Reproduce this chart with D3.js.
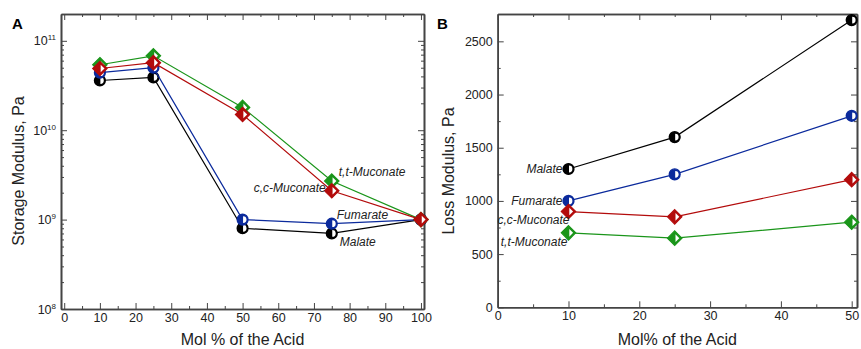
<!DOCTYPE html>
<html>
<head>
<meta charset="utf-8">
<script src="https://cdn.jsdelivr.net/npm/d3@7"></script>
<style>
body { margin: 0; background: #fff; }
svg { font-family: "Liberation Sans", Arial, sans-serif; }
.axis path, .axis line { stroke: #444; }
.axis text { font-size: 12.5px; fill: #222; }
.lab { font-size: 12px; font-style: italic; fill: #222; }
.title { font-size: 16px; fill: #222; }
</style>
</head>
<body>
<div id="chart"></div>
<script>
// panel A: storage modulus vs mol % acid
const molA = [10, 25, 50, 75, 100]
const malateA = [3.6e10, 3.9e10, 8.0e8, 7.0e8, 1.0e9]
const fumarateA = [4.4e10, 5.0e10, 1.0e9, 0.9e9, 1.0e9]
const ccMuconateA = [4.9e10, 5.7e10, 1.5e10, 2.1e9, 1.0e9]
const ttMuconateA = [5.4e10, 6.8e10, 1.8e10, 2.7e9, 1.0e9]

// panel B: loss modulus
const molB = [10, 25, 50]
const malateB = [1300, 1600, 2700]
const fumarateB = [1000, 1250, 1800]
const ccMuconateB = [900, 850, 1200]
const ttMuconateB = [700, 650, 800]

const xTicksA = [0, 10, 20, 30, 40, 50, 60, 70, 80, 90, 100]
const yTicksA = [1e8, 1e9, 1e10, 1e11]
const xTicksB = [0, 10, 20, 30, 40, 50]
const yTicksB = [0, 500, 1000, 1500, 2000, 2500]

const colors = { malate: "#000000", fumarate: "#0b2a9c", cc: "#b30b0b", tt: "#1a951a" }

const svg = d3.select("#chart").append("svg")
  .attr("width", 861).attr("height", 349)

// filled marker with a small white half on the right
function halfCircle(g, x, y, c) {
  g.append("circle").attr("cx", x).attr("cy", y).attr("r", 5.4)
    .attr("fill", c).attr("stroke", c).attr("stroke-width", 1.4)
  g.append("path")
    .attr("d", "M" + (x + 0.5) + "," + (y - 3.4) + " A3.4,3.4 0 0,1 " + (x + 0.5) + "," + (y + 3.4) + " Z")
    .attr("fill", "#fff")
}
function halfDiamond(g, x, y, c) {
  const s = 7.2
  g.append("path")
    .attr("d", "M" + x + "," + (y - s) + " L" + (x + s) + "," + y + " L" + x + "," + (y + s) + " L" + (x - s) + "," + y + " Z")
    .attr("fill", c).attr("stroke", c).attr("stroke-width", 1.2)
  g.append("path")
    .attr("d", "M" + (x + 0.8) + "," + (y - 3.8) + " L" + (x + 4.6) + "," + y + " L" + (x + 0.8) + "," + (y + 3.8) + " Z")
    .attr("fill", "#fff")
}

function series(g, xs, ys, x, y, c, marker) {
  const pts = xs.map((v, i) => [x(v), y(ys[i])])
  g.append("path").attr("d", d3.line()(pts))
    .attr("fill", "none").attr("stroke", c).attr("stroke-width", 1.2)
  pts.forEach(p => marker(g, p[0], p[1], c))
}

function frame(x, y, xMajor, xMinor, yAxisMajor, yMinor, fmtY, xTitle, yTitle, yTitleX) {
  const [x0, x1] = x.range(), [y0, y1] = y.range()
  const ax = svg.append("g").attr("class", "axis")
  // bottom
  ax.append("g").attr("transform", "translate(0," + y0 + ")")
    .call(d3.axisBottom(x).tickValues(xMajor).tickSize(-6).tickPadding(4).tickSizeOuter(0))
  ax.append("g").attr("transform", "translate(0," + y0 + ")")
    .call(d3.axisBottom(x).tickValues(xMinor).tickSize(-3).tickFormat("").tickSizeOuter(0))
  // top
  ax.append("g").attr("transform", "translate(0," + y1 + ")")
    .call(d3.axisTop(x).tickValues(xMajor).tickSize(-6).tickFormat("").tickSizeOuter(0))
  ax.append("g").attr("transform", "translate(0," + y1 + ")")
    .call(d3.axisTop(x).tickValues(xMinor).tickSize(-3).tickFormat("").tickSizeOuter(0))
  // left
  const left = ax.append("g").attr("transform", "translate(" + x0 + ",0)")
    .call(d3.axisLeft(y).tickValues(yAxisMajor).tickSize(-6).tickPadding(5).tickFormat(fmtY).tickSizeOuter(0))
  ax.append("g").attr("transform", "translate(" + x0 + ",0)")
    .call(d3.axisLeft(y).tickValues(yMinor).tickSize(-3).tickFormat("").tickSizeOuter(0))
  // right
  ax.append("g").attr("transform", "translate(" + x1 + ",0)")
    .call(d3.axisRight(y).tickValues(yAxisMajor).tickSize(-6).tickFormat("").tickSizeOuter(0))
  ax.append("g").attr("transform", "translate(" + x1 + ",0)")
    .call(d3.axisRight(y).tickValues(yMinor).tickSize(-3).tickFormat("").tickSizeOuter(0))
  ax.selectAll("path.domain").attr("stroke-width", 1.6)

  svg.append("text").attr("class", "title").attr("text-anchor", "middle")
    .attr("x", (x0 + x1) / 2).attr("y", 345).text(xTitle)
  svg.append("text").attr("class", "title").attr("text-anchor", "middle")
    .attr("transform", "translate(" + yTitleX + ",171) rotate(-90)")
    .text(yTitle)
  return left
}

// ---------- panel A ----------
const xA = d3.scaleLinear().domain([-0.9, 100.85]).range([61, 424])
const yA = d3.scaleLog().domain([1e8, Math.pow(10, 11.3)]).range([309, 14])
const minorA = []
for (let e = 8; e < 12; e++) for (let k = 2; k < 10; k++) {
  const v = k * Math.pow(10, e)
  if (v < Math.pow(10, 11.3)) minorA.push(v)
}
const leftA = frame(xA, yA, xTicksA, d3.range(5, 100, 10), yTicksA, minorA, d => "",
  "Mol % of the Acid", "Storage Modulus, Pa", 24)
leftA.selectAll(".tick text").each(function(d) {
  const t = d3.select(this)
  t.append("tspan").text("10")
  t.append("tspan").attr("dy", -5).attr("font-size", "8px").text(Math.round(Math.log10(d)))
})

const gA = svg.append("g")
series(gA, molA, malateA, xA, yA, colors.malate, halfCircle)
series(gA, molA, fumarateA, xA, yA, colors.fumarate, halfCircle)
series(gA, molA, ttMuconateA, xA, yA, colors.tt, halfDiamond)
series(gA, molA, ccMuconateA, xA, yA, colors.cc, halfDiamond)

gA.append("text").attr("class", "lab").attr("x", xA(75) + 7).attr("y", yA(ttMuconateA[3]) - 5).text("t,t-Muconate")
gA.append("text").attr("class", "lab").attr("text-anchor", "end").attr("x", xA(75) - 6).attr("y", yA(ccMuconateA[3]) + 1).text("c,c-Muconate")
gA.append("text").attr("class", "lab").attr("x", xA(75) + 5).attr("y", yA(fumarateA[3]) - 5).text("Fumarate")
gA.append("text").attr("class", "lab").attr("x", xA(75) + 8).attr("y", yA(malateA[3]) + 13).text("Malate")

svg.append("text").attr("x", 12).attr("y", 29).attr("font-weight", "bold").attr("font-size", "15px").text("A")

// ---------- panel B ----------
const xB = d3.scaleLinear().domain([0, 50.75]).range([497.7, 857])
const yB = d3.scaleLinear().domain([0, 2757]).range([307.3, 14])
frame(xB, yB, xTicksB, d3.range(5, 50, 10), yTicksB, d3.range(250, 2750, 500), d3.format("d"),
  "Mol% of the Acid", "Loss Modulus, Pa", 454)

const gB = svg.append("g")
series(gB, molB, malateB, xB, yB, colors.malate, halfCircle)
series(gB, molB, fumarateB, xB, yB, colors.fumarate, halfCircle)
series(gB, molB, ccMuconateB, xB, yB, colors.cc, halfDiamond)
series(gB, molB, ttMuconateB, xB, yB, colors.tt, halfDiamond)

gB.append("text").attr("class", "lab").attr("text-anchor", "end").attr("x", xB(10) - 6).attr("y", yB(1300) + 4).text("Malate")
gB.append("text").attr("class", "lab").attr("text-anchor", "end").attr("x", xB(10) - 6).attr("y", yB(1000) + 4).text("Fumarate")
gB.append("text").attr("class", "lab").attr("text-anchor", "end").attr("x", xB(10) + 1).attr("y", yB(900) + 12).text("c,c-Muconate")
gB.append("text").attr("class", "lab").attr("text-anchor", "end").attr("x", xB(10) - 1).attr("y", yB(700) + 13).text("t,t-Muconate")

svg.append("text").attr("x", 437).attr("y", 29).attr("font-weight", "bold").attr("font-size", "15px").text("B")
</script>
</body>
</html>
